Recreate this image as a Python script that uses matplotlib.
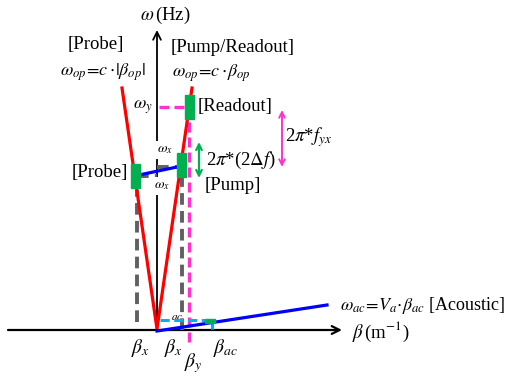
# dispersion sketch: optical lines, probe/pump/readout points and the acoustic line
# units are arbitrary: beta to the right, omega up, origin where the axes cross
import matplotlib.pyplot as plt
from matplotlib.patches import Rectangle

plt.rcParams['font.family'] = 'Liberation Serif'
plt.rcParams['mathtext.fontset'] = 'stix'

# optical lines  omega = c*|beta|
opt_beta = [-35, 0, 35]
opt_omega = [242, 1, 242]

# operating points (beta, omega)
probe = (-22, 154.5)
pump = (24, 165)
readout = (32, 223.5)
acoustic = (53, 9)

# probe -> pump coupling line
pp_beta = [-18, 20]
pp_omega = [155, 163]

# acoustic line omega_ac = Va*beta_ac
ac_beta = [0, 170]
ac_omega = [-1, 25]

# guide lines
grey_v_beta = [-20, 25]
grey_v_top = [140, 152]
grey_v_bot = [8, 0]
grey_h_omega = [154, 163]
grey_h_from = [-20, 0]
grey_h_to = [0, 20]

# figure
fig = plt.figure(figsize=(5.08, 3.76), dpi=100)
ax = fig.add_axes([0, 0, 1, 1])
ax.set_xlim(-157, 351)
ax.set_ylim(-46, 330)
ax.axis('off')

# axes with arrows
ax.annotate('', xy=(185, 0), xytext=(-149, 0),
            arrowprops=dict(arrowstyle='->', color='black', lw=1.6, mutation_scale=14,
                            shrinkA=0, shrinkB=0), zorder=2)
ax.annotate('', xy=(0, 300), xytext=(0, 0),
            arrowprops=dict(arrowstyle='->', color='black', lw=1.3, mutation_scale=14,
                            shrinkA=0, shrinkB=0), zorder=2)

# grey dashed guides
for b, t, bo in zip(grey_v_beta, grey_v_top, grey_v_bot):
    ax.plot([b, b], [bo, t], color='#606060', lw=2.8, ls=(0, (3, 1.6)), zorder=3)
for o, f, t in zip(grey_h_omega, grey_h_from, grey_h_to):
    ax.plot([f, t], [o, o], color='#606060', lw=2.8, ls=(0, (3, 1.6)), zorder=3)

# magenta dashed guides to readout
ax.plot([readout[0] - 0.5, readout[0] - 0.5], [readout[1], -15], color='#FF33CC',
        lw=2.4, ls=(0, (3, 1.5)), zorder=3)
ax.plot([2, 27], [readout[1], readout[1]], color='#FF33CC', lw=2.4, ls=(0, (3, 1.5)), zorder=3)

# cyan dashed guides to acoustic point
ax.plot([3, 58], [10, 10], color='#00B0F0', lw=2.2, ls=(0, (3, 1.5)), zorder=3)
ax.plot([55, 55], [10, 0], color='#00B0F0', lw=2.2, ls=(0, (3, 1.5)), zorder=3)

# optical lines
ax.plot(opt_beta, opt_omega, color='red', lw=2.3, zorder=4, solid_joinstyle='miter')

# blue lines
ax.plot(pp_beta, pp_omega, color='blue', lw=2.3, zorder=5)
ax.plot(ac_beta, ac_omega, color='blue', lw=2.3, zorder=5)

# green markers
for b, o in [probe, pump, readout]:
    ax.add_patch(Rectangle((b - 4.5, o - 12), 9, 24, color='#00B050', zorder=6))
ax.add_patch(Rectangle((acoustic[0] - 5, acoustic[1] - 2), 10, 4, color='#00B050', zorder=6))

# double arrows
ax.annotate('', xy=(42, 188), xytext=(42, 152),
            arrowprops=dict(arrowstyle='<->', color='#00B050', lw=1.6, mutation_scale=10,
                            shrinkA=0, shrinkB=0))
ax.annotate('', xy=(125, 220), xytext=(125, 163),
            arrowprops=dict(arrowstyle='<->', color='#FF33CC', lw=1.4, mutation_scale=10,
                            shrinkA=0, shrinkB=0))

fs = 13.5
# labels
ax.text(8, 315, r'$\omega\,$(Hz)', fontsize=fs, ha='center', va='center')
ax.text(-61, 285, '[Probe]', fontsize=fs, ha='center', va='center')
ax.text(-54, 258, r'$\omega_{op}\!=\!c\cdot\!|\beta_{op}|$', fontsize=13, ha='center', va='center')
ax.text(14, 283, '[Pump/Readout]', fontsize=fs, ha='left', va='center')
ax.text(15, 257, r'$\omega_{op}\!=\!c\cdot\!\beta_{op}$', fontsize=13, ha='left', va='center')
ax.text(41, 223, '[Readout]', fontsize=fs, ha='left', va='center')
ax.text(-29, 158, '[Probe]', fontsize=fs, ha='right', va='center')
ax.text(49, 170, r'2$\pi$*(2$\Delta f$)', fontsize=fs, ha='left', va='center')
ax.text(48, 144, '[Pump]', fontsize=fs, ha='left', va='center')
ax.text(128, 193, r'2$\pi$*$f_{yx}$', fontsize=fs, ha='left', va='center')
ax.text(183, 25, r'$\omega_{ac}\!=\!V_a\!\cdot\!\beta_{ac}$ [Acoustic]', fontsize=13,
        ha='left', va='center')
ax.text(195, -2, r'$\beta\,$(m$^{-1}$)', fontsize=fs, ha='left', va='center')

ax.text(-14, 223, r'$\omega_y$', fontsize=13, ha='center', va='center')
ax.text(8, 180, r'$\omega_x$', fontsize=10, ha='center', va='center', zorder=4,
        bbox=dict(fc='white', ec='none', pad=2))
ax.text(5, 144, r'$\omega_x$', fontsize=10, ha='center', va='center', zorder=4,
        bbox=dict(fc='white', ec='none', pad=2))
ax.text(20, 13, r'$ac$', fontsize=8, ha='center', va='center', zorder=2)

ax.text(-17, -18, r'$\beta_x$', fontsize=14, ha='center', va='center')
ax.text(16, -18, r'$\beta_x$', fontsize=14, ha='center', va='center')
ax.text(36, -33, r'$\beta_y$', fontsize=14, ha='center', va='center')
ax.text(69, -18, r'$\beta_{ac}$', fontsize=14, ha='center', va='center')

fig.savefig('out.png', dpi=100)
